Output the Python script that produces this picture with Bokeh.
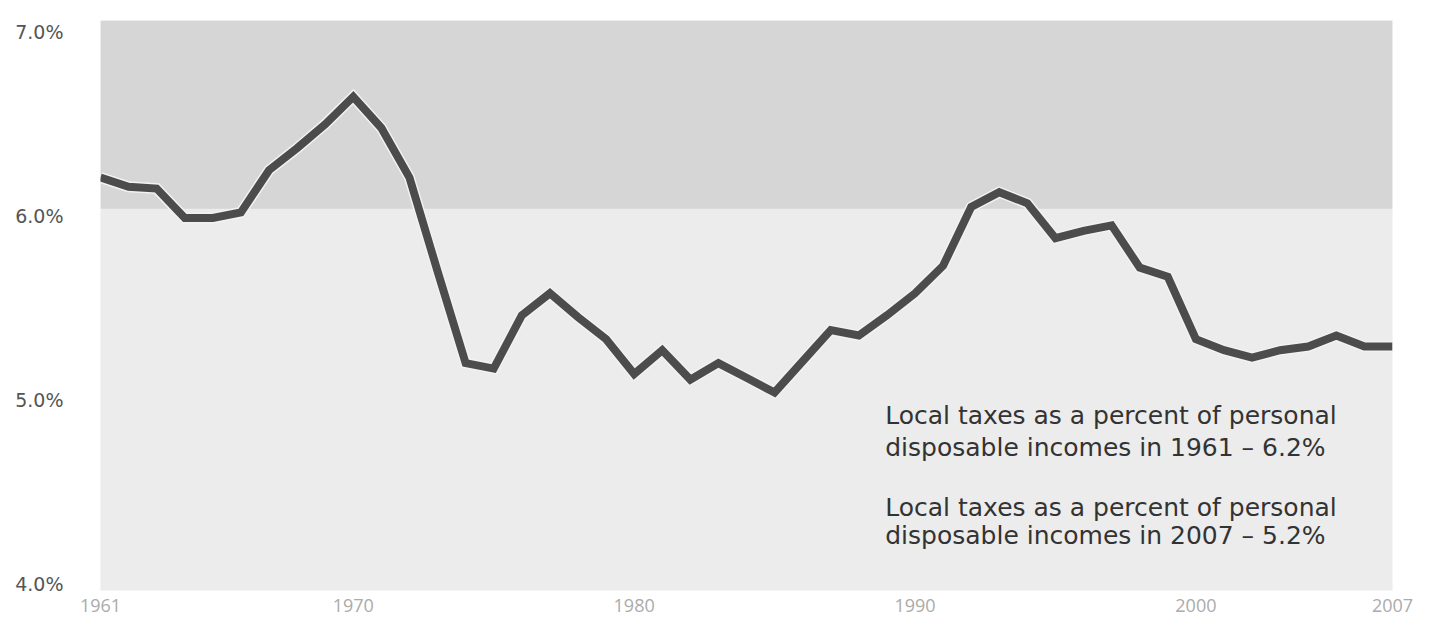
from bokeh.plotting import figure
from bokeh.models import BoxAnnotation, Label, FixedTicker, NumeralTickFormatter
from bokeh.embed import file_html
from bokeh.resources import INLINE

years = list(range(1961, 2008))
local_tax_pct = [
    6.21, 6.16, 6.15, 5.99, 5.99, 6.02, 6.25, 6.37, 6.50, 6.65,
    6.48, 6.21, 5.70, 5.20, 5.17, 5.46, 5.58, 5.45, 5.33, 5.14,
    5.27, 5.11, 5.20, 5.12, 5.04, 5.21, 5.38, 5.35, 5.46, 5.58,
    5.73, 6.05, 6.13, 6.07, 5.88, 5.92, 5.95, 5.72, 5.67, 5.33,
    5.27, 5.23, 5.27, 5.29, 5.35, 5.29, 5.29,
]
x_ticks = [1961, 1970, 1980, 1990, 2000, 2007]
y_ticks = [4.0, 5.0, 6.0, 7.0]
band_bottom = 6.04
notes = [
    "Local taxes as a percent of personal",
    "disposable incomes in 1961 \u2013 6.2%",
    "Local taxes as a percent of personal",
    "disposable incomes in 2007 \u2013 5.2%",
]

p = figure(width=1424, height=618, output_backend="svg", toolbar_location=None,
           x_range=(1961, 2007), y_range=(3.962, 7.065),
           min_border_left=100, min_border_right=32, min_border_top=20, min_border_bottom=28)
p.background_fill_color = "#ececec"
p.border_fill_color = "white"
p.outline_line_color = None
p.xgrid.visible = False
p.ygrid.visible = False

p.add_layout(BoxAnnotation(bottom=band_bottom, fill_color="#d6d6d6", fill_alpha=1.0,
                           line_color=None, level="underlay"))

p.line(years, local_tax_pct, line_color="#f2f2f2", line_width=11, line_join="miter")
p.line(years, local_tax_pct, line_color="#4c4c4c", line_width=8, line_join="miter")

p.xaxis.ticker = FixedTicker(ticks=x_ticks)
p.yaxis.ticker = FixedTicker(ticks=y_ticks)
p.yaxis.formatter = NumeralTickFormatter(format="0.0")
p.yaxis.major_label_overrides = {v: f"{v:.1f}%" for v in y_ticks}
for ax in (p.xaxis[0], p.yaxis[0]):
    ax.axis_line_color = None
    ax.major_tick_line_color = None
    ax.minor_tick_line_color = None
p.yaxis.major_label_text_font = "DejaVu Sans"
p.yaxis.major_label_text_font_size = "19px"
p.yaxis.major_label_text_color = "#555555"
p.yaxis.major_label_standoff = 31
p.xaxis.major_label_text_font = "Open Sans"
p.xaxis.major_label_text_font_size = "18px"
p.xaxis.major_label_text_color = "#ababab"
p.xaxis.major_label_standoff = 2

note_y = [4.915, 4.741, 4.414, 4.262]
for t, yy in zip(notes, note_y):
    p.add_layout(Label(x=1988.94, y=yy, text=t, text_font="DejaVu Sans", text_font_size="25px",
                       text_color="#333333", text_baseline="alphabetic", text_align="left"))

open("out.html", "w").write(file_html(p, INLINE))
